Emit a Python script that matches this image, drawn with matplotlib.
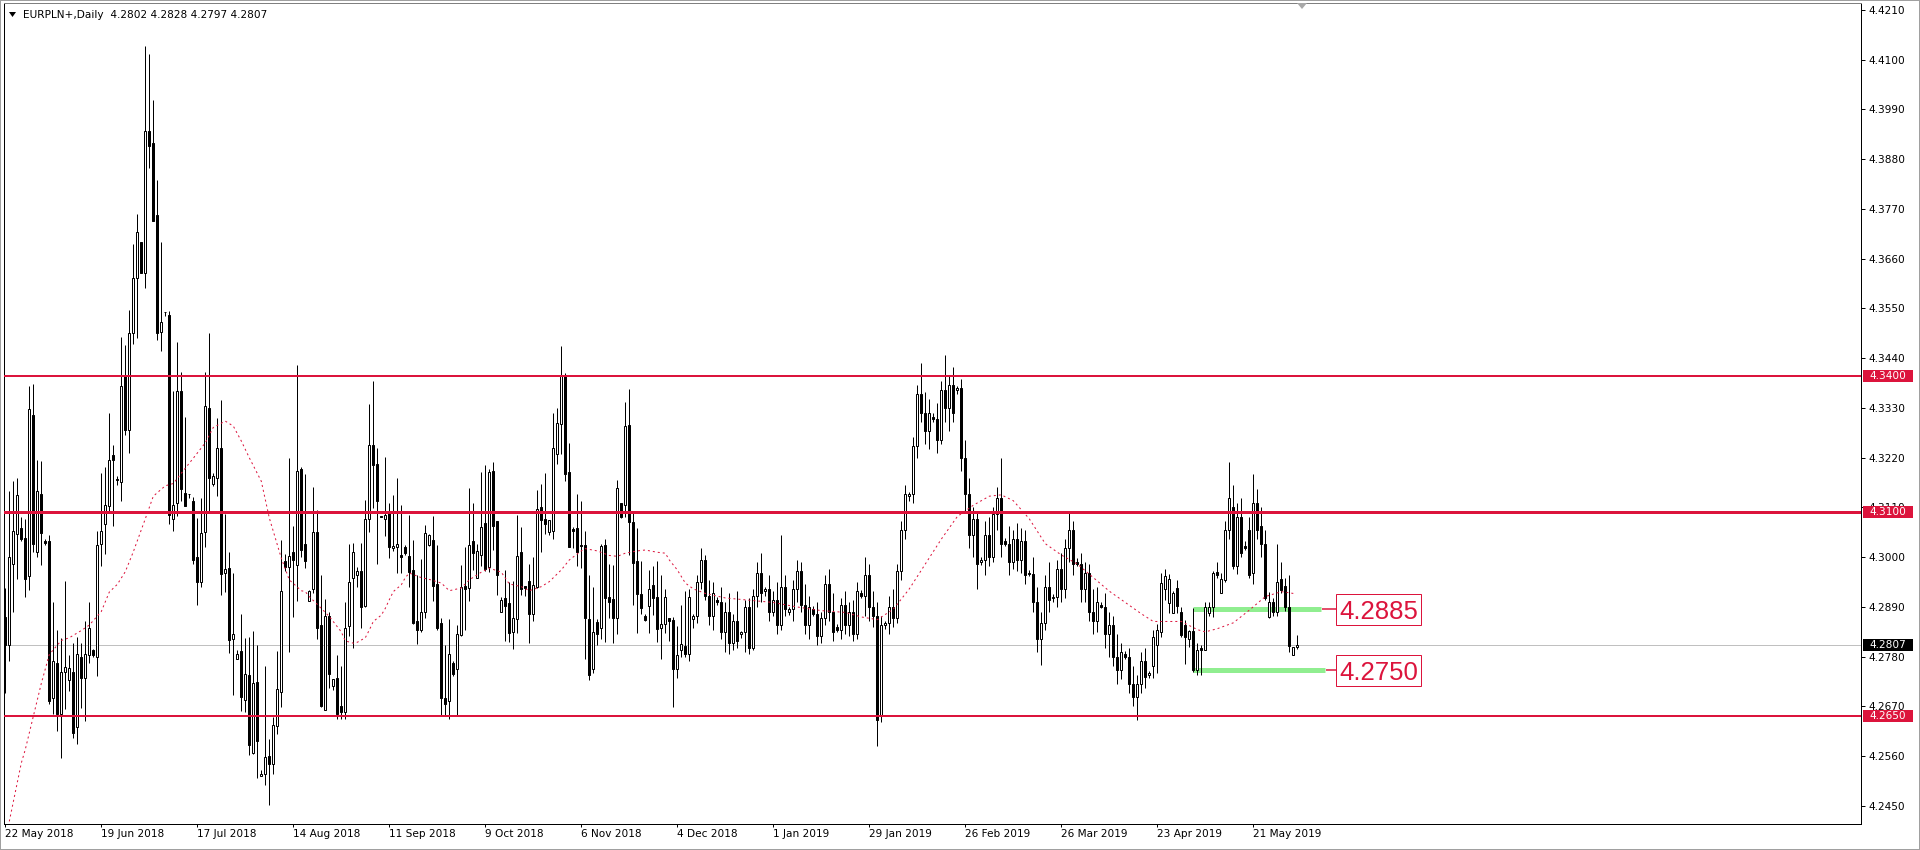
import matplotlib
matplotlib.use("Agg")
import matplotlib.pyplot as plt
from matplotlib.patches import Rectangle, Polygon
from matplotlib import transforms
import numpy as np

# ---------------- data ----------------
symbol_title = "EURPLN+,Daily  4.2802 4.2828 4.2797 4.2807"

opens = [4.2868,4.2805,4.2984,4.3051,4.3065,4.3042,4.2958,4.3315,4.3012,4.3140,
4.3037,4.3035,4.2688,4.2766,4.2654,4.2746,4.2729,4.2746,4.2624,4.2780,
4.2732,4.2783,4.2794,4.2780,4.3029,4.3074,4.3113,4.3225,4.3172,4.3167,
4.3404,4.3281,4.3496,4.3617,4.3696,4.3628,4.3942,4.3917,4.3757,4.3498,
4.3543,4.3535,4.3085,4.3119,4.3367,4.3143,4.3139,4.3124,4.3001,4.2945,
4.3055,4.3331,4.3163,4.3175,4.3241,4.2965,4.2976,4.2820,4.2775,4.2793,
4.2684,4.2739,4.2568,4.2725,4.2516,4.2520,4.2561,4.2542,4.2626,4.2701,
4.2992,4.2978,4.3011,4.2983,4.3195,4.3030,4.2904,4.2930,4.3056,4.2850,
4.2662,4.2870,4.2716,4.2733,4.2671,4.2657,4.2847,4.2954,4.2960,4.2970,
4.2892,4.3084,4.3248,4.3207,4.3092,4.3084,4.3101,4.3020,4.3022,4.3005,
4.3022,4.3003,4.2972,4.2859,4.2839,4.2880,4.3028,4.3039,4.2941,4.2854,
4.2689,4.2682,4.2767,4.2753,4.2828,4.2936,4.2932,4.3035,4.2955,4.3004,
4.3076,4.2978,4.3190,4.3081,4.2880,4.2909,4.2898,4.2834,4.2863,4.3011,
4.2937,4.2948,4.2875,4.2935,4.3111,4.3084,4.3055,4.3057,4.3229,4.3294,
4.3403,4.3189,4.3062,4.3065,4.3028,4.3028,4.2864,4.2752,4.2856,4.2843,
4.3028,4.2911,4.2908,4.2866,4.3120,4.3115,4.3292,4.3078,4.2991,4.2919,
4.2870,4.2893,4.2939,4.2913,4.2843,4.2852,4.2865,4.2861,4.2752,4.2796,
4.2804,4.2787,4.2863,
4.2870,4.2945,4.2995,4.2915,4.2870,4.2905,4.2900,4.2835,4.2880,4.2810,
4.2860,4.2830,4.2835,4.2890,4.2800,4.2915,4.2965,4.2925,4.2930,4.2880,
4.2905,4.2850,4.2935,4.2880,4.2885,4.2930,4.2970,4.2895,4.2850,4.2885,
4.2875,4.2825,4.2865,4.2940,4.2880,4.2845,4.2840,4.2895,4.2850,4.2880,
4.2830,4.2920,4.2915,4.2960,4.2890,4.2870,4.2650,4.2850,4.2855,4.2890,
4.2865,4.2970,4.3060,4.3135,4.3140,4.3245,4.3360,4.3320,4.3280,4.3310,
4.3305,4.3260,4.3370,4.3330,4.3380,4.3370,4.3375,4.3220,4.3140,4.3050,
4.3085,4.2990,4.2995,4.3050,4.3000,4.3095,4.3130,4.3035,4.3030,4.2990,
4.3040,4.2995,4.3035,4.2965,4.2962,4.2900,4.2820,4.2855,4.2935,4.2910,
4.2912,4.2975,4.2930,4.3020,4.3060,4.2990,4.2985,4.2930,4.2965,4.2880,
4.2860,4.2895,4.2890,4.2830,4.2850,4.2780,4.2750,4.2785,4.2780,4.2720,
4.2690,4.2720,4.2770,4.2740,4.2760,4.2806,4.2835,4.2930,4.2898,4.2876,
4.2931,4.2878,4.2850,4.2819,4.2838,4.2751,4.2799,4.2795,4.2876,4.2891,
4.2968,4.2920,4.2950,4.3060,4.3110,4.2980,4.3090,4.3025,4.3060,4.2965,
4.3120,4.3070,4.3030,4.2867,4.2902,4.2878,4.2951,4.2936,4.2889,4.2784,
4.2802]
highs = [4.2932,4.3147,4.3169,4.3175,4.3088,4.3085,4.3378,4.3382,4.3216,4.3212,
4.3040,4.3049,4.2900,4.2839,4.2822,4.2947,4.2783,4.2811,4.2824,4.2811,
4.2858,4.2900,4.2797,4.3057,4.3186,4.3200,4.3318,4.3248,4.3180,4.3488,
4.3469,4.3546,4.3693,4.3760,4.3696,4.4130,4.4113,4.4011,4.3834,4.3696,
4.3543,4.3544,4.3367,4.3476,4.3409,4.3309,4.3139,4.3133,4.3087,4.3132,
4.3409,4.3496,4.3186,4.3307,4.3348,4.3096,4.3012,4.2965,4.2795,4.2875,
4.2822,4.2824,4.2838,4.2806,4.2529,4.2760,4.2598,4.2647,4.2793,4.3039,
4.3007,4.3220,4.3070,4.3424,4.3200,4.3183,4.2928,4.3155,4.3105,4.2961,
4.2908,4.2878,4.2730,4.2784,4.2760,4.2902,4.3030,4.3031,4.2978,4.3031,
4.3127,4.3339,4.3390,4.3242,4.3092,4.3222,4.3120,4.3137,4.3175,4.3116,
4.3028,4.3094,4.3039,4.2960,4.2997,4.3072,4.3052,4.3092,4.3028,4.2865,
4.2807,4.2864,4.2770,4.2850,4.2983,4.3023,4.3153,4.3121,4.3030,4.3189,
4.3205,4.3196,4.3211,4.3081,4.2911,4.2972,4.2946,4.2948,4.3094,4.3067,
4.2937,4.2985,4.3000,4.3149,4.3161,4.3186,4.3083,4.3319,4.3330,4.3467,
4.3408,4.3253,4.3066,4.3140,4.3125,4.3057,4.2960,4.2935,4.2864,4.3030,
4.3041,4.2985,4.2982,4.3170,4.3120,4.3344,4.3371,4.3101,4.3065,4.2992,
4.2875,4.2972,4.2981,4.2992,4.2961,4.2930,4.2865,4.2868,4.2849,4.2895,
4.2926,4.2930,4.2875,
4.2960,4.3020,4.3005,4.2950,4.2945,4.2912,4.2935,4.2900,4.2920,4.2875,
4.2925,4.2838,4.2905,4.2910,4.2930,4.2990,4.3010,4.2935,4.2960,4.2925,
4.2945,4.3050,4.2960,4.2890,4.2950,4.2995,4.2990,4.2940,4.2915,4.2892,
4.2900,4.2880,4.2960,4.2975,4.2920,4.2852,4.2910,4.2925,4.2900,4.2905,
4.2945,4.2928,4.3000,4.2985,4.2925,4.2900,4.2870,4.2858,4.2915,4.2930,
4.2985,4.3080,4.3160,4.3145,4.3265,4.3380,4.3430,4.3365,4.3350,4.3318,
4.3340,4.3390,4.3447,4.3400,4.3420,4.3378,4.3395,4.3260,4.3175,4.3110,
4.3100,4.3000,4.3080,4.3090,4.3110,4.3155,4.3220,4.3042,4.3070,4.3060,
4.3075,4.3065,4.3060,4.2972,4.3000,4.2935,4.2880,4.2960,4.2990,4.2918,
4.2995,4.3010,4.3040,4.3100,4.3080,4.2998,4.3010,4.2990,4.2985,4.2930,
4.2935,4.2902,4.2920,4.2880,4.2870,4.2830,4.2810,4.2792,4.2800,4.2760,
4.2740,4.2790,4.2800,4.2748,4.2839,4.2852,4.2966,4.2975,4.2964,4.2925,
4.2950,4.2890,4.2861,4.2840,4.2887,4.2810,4.2805,4.2900,4.2900,4.2970,
4.2990,4.2965,4.3080,4.3211,4.3160,4.3120,4.3130,4.3035,4.3090,4.3185,
4.3150,4.3110,4.3060,4.2924,4.2910,4.3030,4.2990,4.2955,4.2960,4.2801,
4.2828]
lows = [4.2700,4.2771,4.2878,4.2951,4.3035,4.2911,4.2928,4.3012,4.3001,4.2982,
4.3028,4.2676,4.2654,4.2615,4.2556,4.2665,4.2704,4.2600,4.2587,4.2667,
4.2637,4.2766,4.2780,4.2738,4.2981,4.3007,4.3102,4.3068,4.3160,4.3124,
4.3270,4.3231,4.3471,4.3485,4.3628,4.3595,4.3861,4.3743,4.3480,4.3457,
4.3533,4.3074,4.3057,4.3091,4.3124,4.3113,4.3130,4.2984,4.2894,4.2934,
4.3023,4.3102,4.3158,4.3135,4.2917,4.2923,4.2788,4.2695,4.2775,4.2660,
4.2657,4.2562,4.2564,4.2512,4.2516,4.2496,4.2453,4.2520,4.2610,4.2669,
4.2970,4.2791,4.2867,4.2904,4.3000,4.2976,4.2904,4.2922,4.2819,4.2668,
4.2662,4.2710,4.2706,4.2643,4.2643,4.2643,4.2826,4.2799,4.2934,4.2843,
4.2889,4.3055,4.3109,4.2985,4.3088,4.3046,4.2998,4.3013,4.2965,4.2965,
4.3005,4.2934,4.2852,4.2808,4.2834,4.2865,4.3024,4.2904,4.2839,4.2652,
4.2652,4.2642,4.2737,4.2652,4.2826,4.2840,4.2904,4.2972,4.2955,4.2980,
4.2970,4.2967,4.3015,4.2917,4.2878,4.2815,4.2813,4.2797,4.2832,4.2917,
4.2915,4.2810,4.2858,4.2932,4.3011,4.3052,4.3050,4.3041,4.3207,4.3229,
4.3169,4.3022,4.3020,4.2980,4.2976,4.2776,4.2729,4.2743,4.2807,4.2820,
4.2813,4.2865,4.2810,4.2831,4.3087,4.3088,4.3005,4.2895,4.2832,4.2875,
4.2858,4.2832,4.2872,4.2813,4.2776,4.2832,4.2814,4.2668,4.2732,4.2780,
4.2780,4.2771,4.2843,
4.2855,4.2930,4.2905,4.2850,4.2840,4.2895,4.2820,4.2790,4.2785,4.2795,
4.2800,4.2822,4.2790,4.2785,4.2795,4.2890,4.2900,4.2915,4.2860,4.2870,
4.2830,4.2840,4.2870,4.2872,4.2860,4.2900,4.2880,4.2830,4.2820,4.2870,
4.2805,4.2810,4.2850,4.2860,4.2815,4.2835,4.2820,4.2830,4.2825,4.2815,
4.2820,4.2910,4.2870,4.2860,4.2845,4.2583,4.2635,4.2842,4.2830,4.2845,
4.2855,4.2950,4.3040,4.3125,4.3120,4.3220,4.3300,4.3250,4.3240,4.3300,
4.3230,4.3250,4.3300,4.3280,4.3300,4.3360,4.3190,4.3100,4.3020,4.3000,
4.2930,4.2982,4.2960,4.2980,4.2990,4.3060,4.3000,4.3025,4.2960,4.2975,
4.2970,4.2965,4.2940,4.2958,4.2880,4.2790,4.2762,4.2840,4.2880,4.2900,
4.2890,4.2900,4.2910,4.2990,4.2960,4.2980,4.2900,4.2900,4.2860,4.2830,
4.2835,4.2888,4.2800,4.2780,4.2760,4.2720,4.2730,4.2775,4.2700,4.2670,
4.2640,4.2700,4.2710,4.2732,4.2732,4.2745,4.2824,4.2905,4.2876,4.2876,
4.2876,4.2823,4.2765,4.2802,4.2747,4.2740,4.2740,4.2795,4.2870,4.2868,
4.2955,4.2920,4.2945,4.3040,4.2975,4.2962,4.3000,4.3015,4.2955,4.2940,
4.3040,4.3000,4.2905,4.2865,4.2870,4.2870,4.2920,4.2882,4.2791,4.2784,
4.2797]
closes = [4.2806,4.3001,4.3057,4.3138,4.3040,4.2951,4.3328,4.3029,4.3147,4.3054,
4.3031,4.2682,4.2771,4.2654,4.2746,4.2757,4.2755,4.2611,4.2785,4.2732,
4.2786,4.2844,4.2783,4.3026,4.3057,4.3116,4.3214,4.3216,4.3170,4.3379,
4.3281,4.3496,4.3617,4.3720,4.3628,4.3942,4.3910,4.3743,4.3496,4.3521,
4.3543,4.3094,4.3116,4.3367,4.3150,4.3113,4.3139,4.2995,4.2945,4.3054,
4.3335,4.3175,4.3180,4.3242,4.2962,4.2973,4.2816,4.2831,4.2787,4.2690,
4.2742,4.2584,4.2722,4.2593,4.2521,4.2558,4.2542,4.2629,4.2708,4.2926,
4.2978,4.3002,4.2993,4.3190,4.3017,4.2991,4.2926,4.3056,4.2844,4.2671,
4.2871,4.2742,4.2730,4.2654,4.2657,4.2843,4.2945,4.3011,4.2970,4.2891,
4.3084,4.3249,4.3205,4.3124,4.3088,4.3094,4.3022,4.3025,4.3029,4.3000,
4.3009,4.2968,4.2854,4.2839,4.2878,4.3053,4.3050,4.2937,4.2843,4.2689,
4.2675,4.2786,4.2741,4.2830,4.2935,4.2929,4.3028,4.3009,4.3014,4.3067,
4.2974,4.3189,4.3068,4.2960,4.2906,4.2893,4.2832,4.2865,4.3003,4.2930,
4.2932,4.2875,4.2939,4.3107,4.3082,4.3074,4.3083,4.3242,4.3297,4.3403,
4.3185,4.3022,4.3057,4.3011,4.3024,4.2865,4.2739,4.2835,4.2830,4.3025,
4.2909,4.2902,4.2865,4.3153,4.3088,4.3290,4.3078,4.2988,4.2919,4.2887,
4.2861,4.2930,4.2909,4.2841,4.2852,4.2913,4.2858,4.2752,4.2784,4.2808,
4.2787,4.2912,4.2870,
4.2945,4.2995,4.2915,4.2870,4.2920,4.2900,4.2835,4.2880,4.2810,4.2860,
4.2815,4.2835,4.2890,4.2800,4.2915,4.2965,4.2920,4.2930,4.2880,4.2905,
4.2850,4.2935,4.2885,4.2885,4.2930,4.2970,4.2895,4.2850,4.2890,4.2875,
4.2825,4.2865,4.2940,4.2880,4.2835,4.2840,4.2895,4.2850,4.2880,4.2830,
4.2925,4.2915,4.2960,4.2890,4.2870,4.2640,4.2850,4.2855,4.2890,4.2865,
4.2970,4.3060,4.3140,4.3140,4.3245,4.3360,4.3320,4.3280,4.3320,4.3305,
4.3260,4.3370,4.3330,4.3380,4.3320,4.3375,4.3220,4.3140,4.3050,4.3085,
4.2985,4.2995,4.3050,4.3000,4.3095,4.3130,4.3030,4.3030,4.2990,4.3040,
4.2995,4.3035,4.2960,4.2962,4.2900,4.2820,4.2855,4.2935,4.2905,4.2912,
4.2975,4.2930,4.3020,4.3060,4.2985,4.2985,4.2930,4.2965,4.2880,4.2860,
4.2900,4.2890,4.2830,4.2850,4.2780,4.2750,4.2790,4.2780,4.2720,4.2690,
4.2720,4.2770,4.2735,4.2745,4.2823,4.2839,4.2942,4.2958,4.2951,4.2920,
4.2893,4.2828,4.2824,4.2838,4.2751,4.2796,4.2794,4.2891,4.2891,4.2966,
4.2961,4.2953,4.3060,4.3130,4.2980,4.3090,4.3010,4.3020,4.2960,4.3120,
4.3060,4.3030,4.2909,4.2902,4.2878,4.2946,4.2928,4.2889,4.2804,4.2801,
4.2807]

# moving average (at these bar indices)
ma_bars = [1,4,5,7,9,11,14,16,19,21,24,26,28,30,32,35,37,40,42,45,47,50,52,55,57,
           59,61,64,66,69,71,74,75,76,79,81,84,85,87,88,90,91,92,94,95,96,97,99,100,
           101,104,106,109,111,114,116,119,121,124,126,129,131,134,136,139,141,144,
           145,148,151,153,155,158,160,163,165,166,168,170,172,
           175,180,186,192,198,204,210,214,218,222,226,230,234,238,242,246,249,252,
           256,260,264,268,272,276,280,284,287,290,294,298,300,303,307,311,315,319,322]
ma_vals = [4.2416,4.2545,4.2575,4.2648,4.2721,4.2785,4.2816,4.2822,4.2838,4.2850,
           4.2880,4.2923,4.2940,4.2968,4.3012,4.3085,4.3135,4.3158,4.3163,4.3197,
           4.3219,4.3253,4.3287,4.3301,4.3290,4.3257,4.3220,4.3168,4.3087,4.2998,
           4.2950,4.2926,4.2924,4.2913,4.2887,4.2869,4.2835,4.2815,4.2810,4.2812,
           4.2822,4.2839,4.2858,4.2872,4.2887,4.2906,4.2924,4.2939,4.2955,4.2965,
           4.2955,4.2951,4.2943,4.2926,4.2932,4.2950,4.2967,4.2976,4.2967,4.2941,
           4.2935,4.2926,4.2935,4.2946,4.2972,4.2994,4.3014,4.3019,4.3014,4.3004,
           4.3002,4.3009,4.3014,4.3016,4.3011,4.3009,4.2994,4.2972,4.2943,4.2930,
           4.2920,4.2910,4.2905,4.2900,4.2890,4.2882,4.2878,4.2868,4.2862,4.2885,
           4.2930,4.2985,4.3040,4.3090,4.3115,4.3135,4.3138,4.3125,4.3085,4.3030,
           4.3005,4.2985,4.2955,4.2925,4.2900,4.2875,4.2858,4.2858,4.2858,4.2840,
           4.2835,4.2842,4.2855,4.2883,4.2913,4.2924,4.2920]

date_tick_bars = [0,24,48,72,96,120,144,168,192,216,240,264,288,312]
date_labels = ["22 May 2018","19 Jun 2018","17 Jul 2018","14 Aug 2018","11 Sep 2018",
               "9 Oct 2018","6 Nov 2018","4 Dec 2018","1 Jan 2019","29 Jan 2019",
               "26 Feb 2019","26 Mar 2019","23 Apr 2019","21 May 2019"]
price_ticks = [4.4210,4.4100,4.3990,4.3880,4.3770,4.3660,4.3550,4.3440,4.3330,
               4.3220,4.3110,4.3000,4.2890,4.2780,4.2670,4.2560,4.2450]

red_levels = [4.3400, 4.3100, 4.2650]
red_widths_px = [2, 3, 2]
last_price = 4.2807
green_levels = [4.2885, 4.2750]
green_labels = ["4.2885", "4.2750"]

# ---------------- layout ----------------
W, H = 1920, 850
DPI = 100
PX = 72.0 / DPI  # points per pixel
CRIMSON = "#DC143C"
FONT = "DejaVu Sans"
FS = 7.6

fig = plt.figure(figsize=(W / DPI, H / DPI), dpi=DPI, facecolor="white")
ax_l, ax_r, ax_t, ax_b = 4, 1861, 3, 824
ax = fig.add_axes([ax_l / W, (H - ax_b) / H, (ax_r - ax_l) / W, (ax_b - ax_t) / H])
ax.set_facecolor("white")

def bx(px):  # pixel x -> bar coordinate
    return (px - 5.3) / 4.0

ax.set_xlim(bx(ax_l), bx(ax_r))
y_top_price = 4.4210 + 7 / 4522.7
y_bot_price = 4.4210 - (ax_b - 10) / 4522.7
ax.set_ylim(y_bot_price, y_top_price)

# gray current-price line
ax.axhline(last_price, color="#C0C0C0", lw=1 * PX, zorder=1)

# green zones
for lvl, x0, x1 in zip(green_levels, [1193, 1193], [1321, 1325]):
    ax.plot([bx(x0), bx(x1)], [lvl, lvl], color="#90EE90", lw=5 * PX,
            solid_capstyle="butt", zorder=1.5)
    ax.plot([bx(x1 + 1), bx(1336)], [lvl, lvl], color=CRIMSON, lw=1.5 * PX,
            solid_capstyle="butt", zorder=1.5)

# candles
n = len(closes)
xs = np.arange(n)
o = np.array(opens); h = np.array(highs); l = np.array(lows); c = np.array(closes)
ax.vlines(xs, l, h, color="black", lw=1 * PX, zorder=2)
up = c >= o
body_bot = np.minimum(o, c)
body_h = np.maximum(np.abs(c - o), 0.00001)
ax.bar(xs[up], body_h[up], bottom=body_bot[up], width=0.5, color="white",
       edgecolor="black", linewidth=1 * PX, zorder=3)
ax.bar(xs[~up], body_h[~up], bottom=body_bot[~up], width=0.5, color="black",
       edgecolor="black", linewidth=1 * PX, zorder=3)

# moving average (dotted red)
ax.plot(ma_bars, ma_vals, color=CRIMSON, lw=1 * PX, linestyle=(0, (2, 3)), zorder=4)

# horizontal red levels
for lvl, wpx in zip(red_levels, red_widths_px):
    ax.axhline(lvl, color=CRIMSON, lw=wpx * PX, zorder=5)

# label boxes for green levels
for lvl, txt in zip(green_levels, green_labels):
    bh = 31 / 4522.7
    ax.add_patch(Rectangle((bx(1336), lvl - bh / 2), bx(1421) - bx(1336), bh,
                           facecolor="white", edgecolor=CRIMSON, lw=1 * PX, zorder=6))
    ax.text((bx(1336) + bx(1421)) / 2, lvl, txt, color=CRIMSON, fontsize=18.5,
            family="Liberation Sans", ha="center", va="center_baseline", zorder=7)

# axes styling
for s in ["left", "bottom", "right"]:
    ax.spines[s].set_color("black")
    ax.spines[s].set_linewidth(1 * PX)
ax.spines["top"].set_color("#808080")
ax.spines["top"].set_linewidth(1 * PX)

ax.yaxis.tick_right()
ax.set_yticks(price_ticks)
ax.set_yticklabels([f"{v:.4f}" for v in price_ticks], fontsize=FS, family=FONT)
ax.tick_params(axis="y", direction="out", length=4 * PX, width=1 * PX, pad=3 * PX,
               colors="black")
ax.set_xticks(date_tick_bars)
ax.set_xticklabels(date_labels, fontsize=FS, family=FONT, ha="left")
ax.tick_params(axis="x", direction="out", length=3 * PX, width=1 * PX, pad=2 * PX,
               colors="black")
for lab in ax.get_xticklabels():
    lab.set_horizontalalignment("left")

# right-axis price boxes
blend = transforms.blended_transform_factory(fig.transFigure, ax.transData)
box_h = 12 / 4522.7
for lvl, fc in [(4.3400, CRIMSON), (4.3100, CRIMSON), (4.2650, CRIMSON), (last_price, "black")]:
    ax.add_patch(Rectangle((1863 / W, lvl - box_h / 2), 50 / W, box_h, transform=blend,
                           facecolor=fc, edgecolor="none", clip_on=False, zorder=10))
    ax.text(1869 / W, lvl, f"{lvl:.4f}", transform=blend, color="white", fontsize=FS,
            family=FONT, ha="left", va="center", zorder=11, clip_on=False)

# title
fig.text(23 / W, 1 - 15 / H, symbol_title, fontsize=FS, family=FONT, ha="left",
         va="center", color="black")
fig.patches.append(Polygon([[9 / W, 1 - 12 / H], [16 / W, 1 - 12 / H], [12.5 / W, 1 - 17 / H]],
                           closed=True, transform=fig.transFigure, facecolor="black",
                           edgecolor="none"))
# chart shift marker
fig.patches.append(Polygon([[1297 / W, 1 - 3 / H], [1307 / W, 1 - 3 / H], [1302 / W, 1 - 9 / H]],
                           closed=True, transform=fig.transFigure, facecolor="#A8A8A8",
                           edgecolor="none"))
# outer frame
fig.patches.append(Rectangle((0, 0), 1, 1, transform=fig.transFigure, fill=False,
                             edgecolor="#A0A0A0", lw=2 * PX))

fig.savefig("out.png", dpi=DPI, facecolor="white")
